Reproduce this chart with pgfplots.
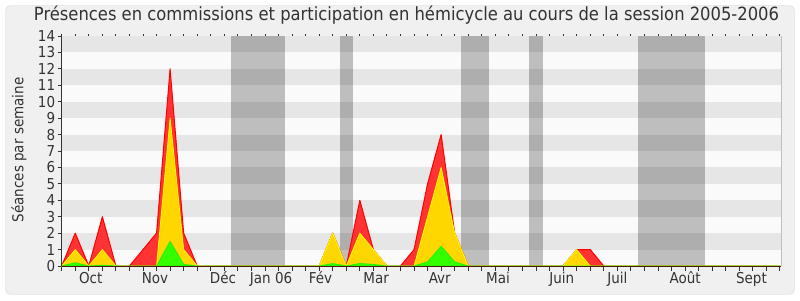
\documentclass[border=0pt]{standalone}
\usepackage{pgfplots}
\pgfplotsset{compat=1.18}
\usepackage{fontspec}
\setmainfont{DejaVu Sans Condensed}
\definecolor{bgc}{HTML}{F0F0F0}
\definecolor{framec}{HTML}{D6D6D6}
\definecolor{plotbg}{HTML}{FAFAFA}
\definecolor{stripe}{HTML}{E6E6E6}
\definecolor{txt}{HTML}{333333}
\definecolor{redfill}{HTML}{FF3333}
\definecolor{redline}{HTML}{FF0000}
\definecolor{yelfill}{HTML}{FFD700}
\definecolor{yelline}{HTML}{FFFF00}
\definecolor{grnfill}{HTML}{33FF00}
\definecolor{grnline}{HTML}{22EE00}
\definecolor{basec}{HTML}{4A1A08}
\begin{document}
\begin{tikzpicture}[x=1pt,y=1pt]
\fill[white] (0,0) rectangle (800,300);
\draw[rounded corners=5pt, draw=framec, fill=bgc] (5.5,5.5) rectangle (794.5,294.5);
\useasboundingbox (0,0) rectangle (800,300);
\node[font=\fontsize{18.2}{21}\selectfont, text=txt] at (406.5,284.5) {Présences en commissions et participation en hémicycle au cours de la session 2005-2006};
\node[rotate=90, font=\fontsize{15}{18}\selectfont, text=txt] at (19,150) {Séances par semaine};
\begin{axis}[
  scale only axis, width=719.3pt, height=230pt,
  at={(61.7pt,34pt)}, anchor=south west,
  xmin=0, xmax=53.08, ymin=0, ymax=14,
  axis background/.style={fill=plotbg},
  axis line style={draw=none},
  clip=false,
  tick align=outside,
  xtick pos=bottom, ytick pos=left,
  ytick={0,1,...,14},
  xtick={2.14,6.89,11.9,15.45,19.1,23.2,27.9,32.2,36.9,41.0,46.0,50.9},
  xticklabels={Oct,Nov,Déc,Jan 06,Fév,Mar,Avr,Mai,Juin,Juil,Août,Sept},
  minor xtick={0,1,...,53},
  major x tick style={draw=none},
  minor x tick style={draw=txt, line width=0.9pt},
  major y tick style={draw=txt, line width=0.9pt},
  major tick length=4pt, minor tick length=5pt,
  /pgf/number format/assume math mode=true,
  ticklabel style={font=\fontsize{15}{18}\selectfont, text=txt},
  xticklabel style={anchor=base, yshift=-13pt},
  yticklabel style={anchor=east, xshift=1pt},
]
\fill[stripe] (axis cs:0,1) rectangle (axis cs:53.08,2);
\fill[stripe] (axis cs:0,3) rectangle (axis cs:53.08,4);
\fill[stripe] (axis cs:0,5) rectangle (axis cs:53.08,6);
\fill[stripe] (axis cs:0,7) rectangle (axis cs:53.08,8);
\fill[stripe] (axis cs:0,9) rectangle (axis cs:53.08,10);
\fill[stripe] (axis cs:0,11) rectangle (axis cs:53.08,12);
\fill[stripe] (axis cs:0,13) rectangle (axis cs:53.08,14);
\fill[black, opacity=0.24] (axis cs:12.5,0) rectangle (axis cs:16.5,14);
\fill[black, opacity=0.24] (axis cs:20.5,0) rectangle (axis cs:21.5,14);
\fill[black, opacity=0.24] (axis cs:29.5,0) rectangle (axis cs:31.5,14);
\fill[black, opacity=0.24] (axis cs:34.5,0) rectangle (axis cs:35.5,14);
\fill[black, opacity=0.24] (axis cs:42.5,0) rectangle (axis cs:47.5,14);
% total
\addplot[draw=redline, fill=redfill, line width=1pt, line join=round] coordinates {
(0,0) (1,2) (2,0) (3,3) (4,0) (5,0) (6,1) (7,2) (8,12) (9,2) (10,0)
(11,0) (12,0) (13,0) (14,0) (15,0) (16,0) (17,0) (18,0) (19,0) (20,2)
(21,0) (22,4) (23,1) (24,0) (25,0) (26,1) (27,5) (28,8) (29,2) (30,0)
(31,0) (32,0) (33,0) (34,0) (35,0) (36,0) (37,0) (38,1) (39,1) (40,0)
(41,0) (42,0) (43,0) (44,0) (45,0) (46,0) (47,0) (48,0) (49,0) (50,0)
(51,0) (52,0) (53,0)} \closedcycle;
\addplot[draw=yelline, fill=yelfill, line width=0.8pt, line join=round] coordinates {
(0,0) (1,1) (2,0) (3,1) (4,0) (5,0) (6,0) (7,0) (8,9) (9,1) (10,0)
(11,0) (12,0) (13,0) (14,0) (15,0) (16,0) (17,0) (18,0) (19,0) (20,2)
(21,0) (22,2) (23,1) (24,0) (25,0) (26,0) (27,3) (28,6) (29,2) (30,0)
(31,0) (32,0) (33,0) (34,0) (35,0) (36,0) (37,0) (38,1) (39,0) (40,0)
(41,0) (42,0) (43,0) (44,0) (45,0) (46,0) (47,0) (48,0) (49,0) (50,0)
(51,0) (52,0) (53,0)} \closedcycle;
\addplot[draw=grnline, fill=grnfill, line width=0.8pt, line join=round] coordinates {
(0,0) (1,0.2) (2,0) (3,0.05) (4,0) (5,0) (6,0) (7,0) (8,1.5) (9,0.1) (10,0)
(11,0) (12,0) (13,0) (14,0) (15,0) (16,0) (17,0) (18,0) (19,0) (20,0.15)
(21,0) (22,0.15) (23,0.1) (24,0) (25,0) (26,0) (27,0.25) (28,1.2) (29,0.25) (30,0)
(31,0) (32,0) (33,0) (34,0) (35,0) (36,0) (37,0) (38,0) (39,0) (40,0)
(41,0) (42,0) (43,0) (44,0) (45,0) (46,0) (47,0) (48,0) (49,0) (50,0)
(51,0) (52,0) (53,0)} \closedcycle;
\draw[basec, line width=1pt] (axis cs:0,0) -- (axis cs:53.08,0);
\draw[txt, line width=1pt] (axis cs:0,0) -- (axis cs:0,14);
\draw[black!25, line width=0.8pt] (axis cs:53.08,0) -- (axis cs:53.08,14);
\pgfplotsinvokeforeach{0,1,...,53}{\draw[txt, line width=0.9pt] (axis cs:#1,14) -- ++(0,2pt);}
\end{axis}
\end{tikzpicture}
\end{document}
